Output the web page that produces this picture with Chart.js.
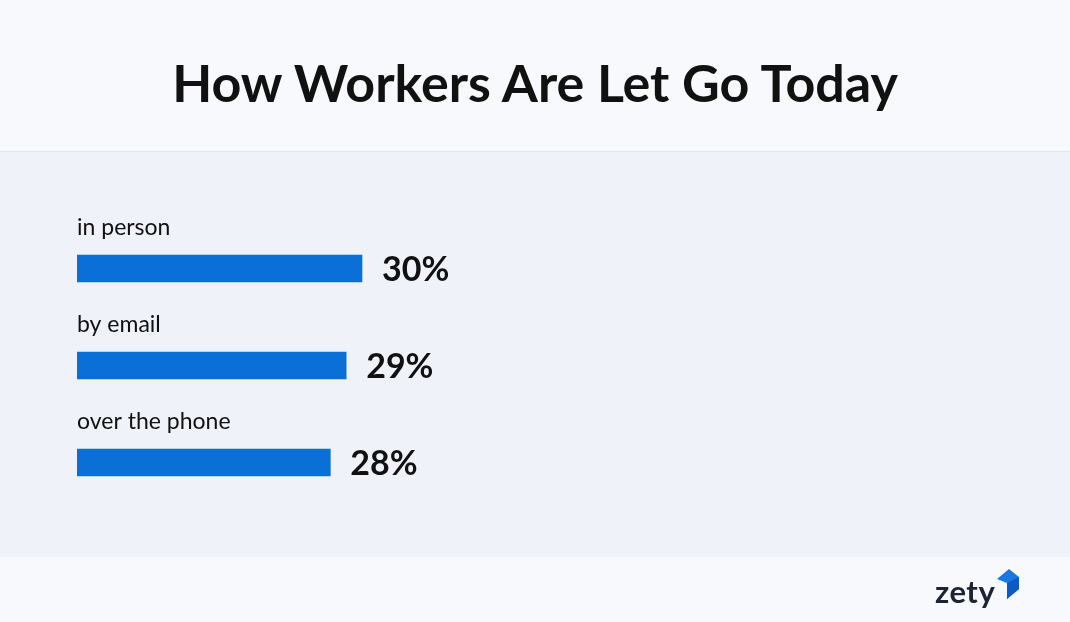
<!DOCTYPE html>
<html><head><meta charset="utf-8">
<script src="https://cdn.jsdelivr.net/npm/chart.js@4"></script>
<style>
body{margin:0;width:1070px;height:622px;background:#f8f9fc;font-family:Lato,sans-serif;position:relative;overflow:hidden}
#hdr{position:absolute;left:0;top:0;width:1070px;height:151px;border-bottom:1px solid #e3e6ee;display:flex;align-items:center;justify-content:center}
#hdr h1{margin:0;font-size:52px;font-weight:700;color:#111;position:relative;top:6px}
#panel{position:absolute;left:0;top:152px;width:1070px;height:405px;background:#eff2f9}
#wrap{position:absolute;left:0;top:0;width:1070px;height:622px}
#logo{position:absolute;left:935px;top:572px;font-size:31px;font-weight:700;color:#1e2336;letter-spacing:0.5px}
#logo svg{position:absolute;left:58px;top:-5px}
</style></head><body>
<div id="hdr"><h1>How Workers Are Let Go Today</h1></div>
<div id="panel"></div>
<div id="wrap"><canvas id="c" width="1070" height="622"></canvas></div>
<div id="logo">zety<svg width="30" height="40" viewBox="0 0 30 40"><polygon points="4,12 16,2 26,10 26,22 14,32 14,16" fill="#1a78e0"/><polygon points="14,16 26,10 26,22 14,32" fill="#0a5cc4"/></svg></div>
<script>
const categories=["in person","by email","over the phone"];
const values=[30,29,28];
const valueLabels=["30%","29%","28%"];
const labelPlugin={id:"lbl",afterDatasetsDraw(chart){
 const ctx=chart.ctx;const meta=chart.getDatasetMeta(0);
 meta.data.forEach((b,i)=>{
  ctx.save();
  ctx.textBaseline="middle";ctx.fillStyle="#111";
  ctx.font="400 23px Lato";ctx.textAlign="left";
  ctx.fillText(categories[i],77,b.y-41);
  ctx.font="700 34px Lato";
  ctx.fillText(valueLabels[i],b.x+20,b.y+2);
  ctx.restore();
 });
}};
new Chart(document.getElementById("c"),{type:"bar",
 data:{labels:categories,datasets:[{data:values,backgroundColor:"#0a6fd6",barThickness:27}]},
 options:{indexAxis:"y",responsive:false,animation:false,
  layout:{padding:{left:77,right:43,top:220,bottom:111}},
  plugins:{legend:{display:false},tooltip:{enabled:false}},
  scales:{x:{min:12,max:72,display:false},y:{display:false}}},
 plugins:[labelPlugin]});
</script>
</body></html>
